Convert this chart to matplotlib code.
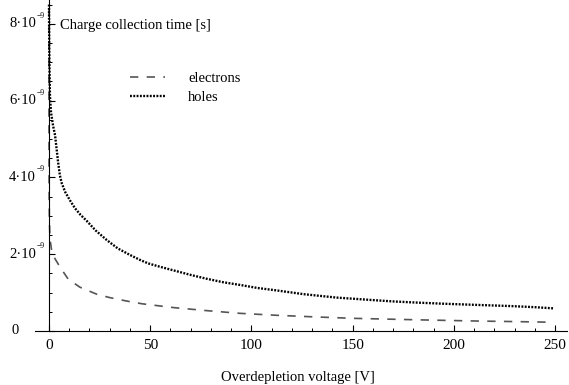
import matplotlib
matplotlib.use('Agg')
import numpy as np
import matplotlib.pyplot as plt
import matplotlib.transforms as mtransforms
from matplotlib.ticker import MultipleLocator

plt.rcParams['font.family'] = ['Liberation Serif', 'DejaVu Serif']

# values (voltage in V, time in ns)
holes_v = [0.02, 0.1, 0.25, 0.5, 1.0, 2.0, 3.0, 4.5, 5.4, 6.3, 8.0, 10.4, 12.8, 15.5, 18.6, 23, 28.5,
           34, 40, 45, 49, 55, 61.4, 70, 77.9, 86, 94.3, 103, 112, 125.6, 142, 158.5,
           170, 181.6, 195, 211, 227.7, 240, 249]
holes_t = [8.5, 7.6, 6.8, 6.1, 5.7, 5.35, 5.1, 4.4, 4.05, 3.85, 3.62, 3.4, 3.2, 3.03, 2.87, 2.62, 2.37,
           2.15, 1.98, 1.85, 1.76, 1.67, 1.58, 1.46, 1.36, 1.27, 1.20, 1.12, 1.06, 0.96, 0.87, 0.81,
           0.77, 0.74, 0.71, 0.68, 0.65, 0.62, 0.59]

electrons_v = [0.0005, 0.003, 0.01, 0.03, 0.08, 0.2, 0.5, 1.3, 3.0, 5.4, 9.5, 15.3, 23.5, 30,
               38.4, 45.8, 61.4, 78, 94.3, 112, 130, 150, 175, 183, 211, 230, 247]
electrons_t = [8.4, 7.0, 5.6, 4.4, 3.5, 2.9, 2.4, 2.1, 1.88, 1.67, 1.35, 1.14, 0.96, 0.87,
               0.78, 0.71, 0.61, 0.53, 0.46, 0.41, 0.37, 0.33, 0.30, 0.29, 0.26, 0.245, 0.23]

ytick_values = [0, 2e-9, 4e-9, 6e-9, 8e-9]
ytick_bases = ['0', '2\u00b710', '4\u00b710', '6\u00b710', '8\u00b710']
ytick_exps = ['', '\u22129', '\u22129', '\u22129', '\u22129']
xtick_values = [0, 50, 100, 150, 200, 250]

W, H = 569, 385
fig = plt.figure(figsize=(W / 100, H / 100), dpi=100)
ax = fig.add_axes([34.8 / W, (H - 331) / H, 532.6 / W, 331 / H])

ax.plot(electrons_v, np.array(electrons_t) * 1e-9, color='#555555', lw=1.2,
        dashes=(5, 5), label='electrons')
ax.plot(holes_v, np.array(holes_t) * 1e-9, color='black', lw=1.7,
        linestyle=(0, (0.8, 0.6)), label='holes')

ax.set_xlim(-7, 256)
ax.set_ylim(0, 8.62e-9)

for s in ['top', 'right']:
    ax.spines[s].set_visible(False)
ax.spines['left'].set_position(('data', 0))
ax.spines['bottom'].set_position(('data', 0))
for s in ['left', 'bottom']:
    ax.spines[s].set_linewidth(0.8)

ax.set_xticks(xtick_values)
ax.xaxis.set_minor_locator(MultipleLocator(10))
ax.yaxis.set_minor_locator(MultipleLocator(0.5e-9))
ax.set_yticks(ytick_values)
ax.set_yticklabels([])
ax.tick_params(axis='both', which='major', direction='in', length=4, width=0.8, labelsize=11)
ax.tick_params(axis='both', which='minor', direction='in', length=2.5, width=0.7)
ax.tick_params(axis='x', pad=6)

# y tick labels: base text plus a tiny exponent, left-aligned near the figure edge
trans = mtransforms.blended_transform_factory(fig.transFigure, ax.transData)
for v, base, ex in zip(ytick_values, ytick_bases, ytick_exps):
    x0 = 12 if base == '0' else 9
    ax.text(x0 / W, v, base, transform=trans, ha='left', va='center', fontsize=10.5)
    if ex:
        ax.annotate(ex, xy=(x0 / W, v), xycoords=trans, xytext=(28, 4),
                    textcoords='offset pixels', ha='left', va='bottom', fontsize=5.5)

fig.text(60 / W, 1 - 25 / H, 'Charge collection time [s]', ha='left', va='center', fontsize=10.5)
fig.text(298 / W, 1 - 377 / H, 'Overdepletion voltage [V]', ha='center', va='center', fontsize=10.5)

ax.legend(loc='upper left', bbox_to_anchor=(130 / W, 1 - 72 / H), bbox_transform=fig.transFigure,
          frameon=False, fontsize=10.5, handlelength=2.4, handletextpad=1.6,
          labelspacing=0.4, borderpad=0, borderaxespad=0)

fig.savefig('out.png', dpi=100)
